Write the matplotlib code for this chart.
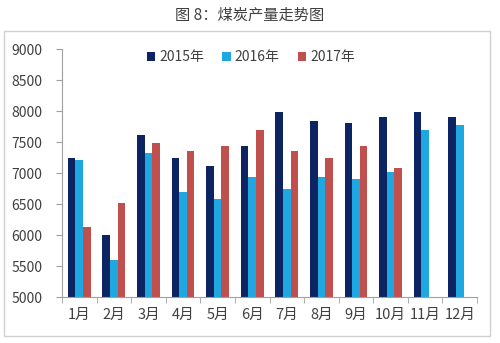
import numpy as np
import matplotlib.pyplot as plt
from matplotlib.patches import Rectangle

plt.rcParams['font.family'] = ['Noto Sans CJK SC', 'DejaVu Sans']

# 数据
months = ["1月", "2月", "3月", "4月", "5月", "6月", "7月", "8月", "9月", "10月", "11月", "12月"]
y2015 = [7240, 6000, 7610, 7240, 7110, 7440, 7990, 7840, 7800, 7910, 7990, 7910]
y2016 = [7210, 5600, 7330, 6690, 6580, 6930, 6740, 6940, 6910, 7020, 7690, 7770]
y2017 = [6130, 6520, 7480, 7350, 7430, 7700, 7350, 7250, 7440, 7080, np.nan, np.nan]
series = ["2015年", "2016年", "2017年"]
colors = ["#0c2461", "#1ea7e1", "#c0504d"]

fig = plt.figure(figsize=(5, 3.43), dpi=100)
ax = fig.add_axes([0.124, 0.134, 0.83, 0.723])

# 外框
fig.patches.append(Rectangle((0.008, 0.02), 0.972, 0.89, transform=fig.transFigure,
                             fill=False, edgecolor="#d0d0d0", lw=1))
fig.text(0.5, 0.957, "图 8：煤炭产量走势图", ha="center", va="center",
         fontsize=11, color="#404040")

x = np.arange(len(months))
w = 0.22
for i, (vals, name, c) in enumerate(zip([y2015, y2016, y2017], series, colors)):
    ax.bar(x + (i - 1) * w, np.array(vals) - 5000, bottom=5000, width=w,
           color=c, label=name)

ax.set_xlim(-0.5, len(months) - 0.5)
ax.set_ylim(5000, 9000)
ax.set_yticks(np.arange(5000, 9001, 500))
ax.set_xticks(x)
ax.set_xticklabels(months)
ax.set_xticks(np.arange(-0.5, len(months), 1), minor=True)
ax.tick_params(axis="x", which="major", length=0, labelsize=10.5, colors="#404040", pad=8)
ax.tick_params(axis="x", which="minor", length=4, color="#a0a0a0")
ax.tick_params(axis="y", length=4, color="#a0a0a0", labelsize=10, labelcolor="#404040", pad=10)

for s in ["top", "right"]:
    ax.spines[s].set_visible(False)
for s in ["left", "bottom"]:
    ax.spines[s].set_color("#a0a0a0")

leg = ax.legend(loc="upper center", bbox_to_anchor=(0.455, 1.045), ncol=3, frameon=False,
                handlelength=0.6, handleheight=0.6, handletextpad=0.3, columnspacing=1.3,
                fontsize=10)
for t in leg.get_texts():
    t.set_color("#404040")

fig.savefig("out.png", dpi=100)
